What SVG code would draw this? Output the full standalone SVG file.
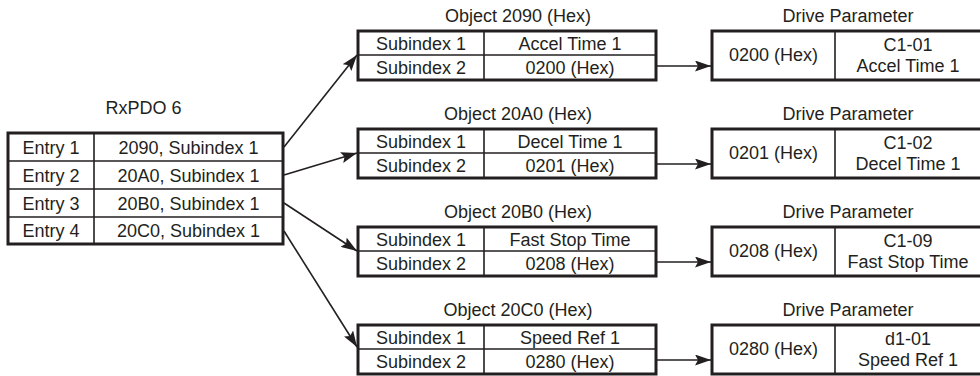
<svg xmlns="http://www.w3.org/2000/svg" width="980" height="376" viewBox="0 0 980 376">
<style>
text{font-family:"Liberation Sans",Arial,sans-serif;font-size:18px;fill:#231f20;text-anchor:middle}
.box{fill:#fff;stroke:#231f20;stroke-width:3}
.div{stroke:#231f20;stroke-width:1.6;fill:none}
.conn{stroke:#231f20;stroke-width:1.6;fill:none;marker-end:url(#ah)}
</style>
<defs>
<marker id="ah" markerUnits="userSpaceOnUse" markerWidth="17" markerHeight="11" refX="16" refY="5.5" orient="auto">
<path d="M0,0 L16,5.5 L0,11 L3,5.5 z" fill="#231f20"/>
</marker>
</defs>
<rect width="980" height="376" fill="#fff"/>

<g id="rxpdo">
<text x="143.5" y="114">RxPDO 6</text>
<rect class="box" x="8" y="133" width="275" height="111"/>
<line class="div" x1="94" y1="133" x2="94" y2="244"/>
<line class="div" x1="8" y1="161" x2="283" y2="161"/>
<line class="div" x1="8" y1="189" x2="283" y2="189"/>
<line class="div" x1="8" y1="217" x2="283" y2="217"/>
<text x="51" y="154">Entry 1</text><text x="188.5" y="154">2090, Subindex 1</text>
<text x="51" y="182">Entry 2</text><text x="188.5" y="182">20A0, Subindex 1</text>
<text x="51" y="210">Entry 3</text><text x="188.5" y="210">20B0, Subindex 1</text>
<text x="51" y="237">Entry 4</text><text x="188.5" y="237">20C0, Subindex 1</text>
</g>

<g id="obj2090">
<text x="518" y="22">Object 2090 (Hex)</text>
<rect class="box" x="358" y="31" width="298" height="49"/>
<line class="div" x1="484" y1="31" x2="484" y2="80"/>
<line class="div" x1="358" y1="55" x2="656" y2="55"/>
<text x="421" y="50">Subindex 1</text><text x="570" y="50">Accel Time 1</text>
<text x="421" y="74">Subindex 2</text><text x="570" y="74">0200 (Hex)</text>
</g>
<g id="obj20A0">
<text x="518" y="120">Object 20A0 (Hex)</text>
<rect class="box" x="358" y="129" width="298" height="49"/>
<line class="div" x1="484" y1="129" x2="484" y2="178"/>
<line class="div" x1="358" y1="153" x2="656" y2="153"/>
<text x="421" y="148">Subindex 1</text><text x="570" y="148">Decel Time 1</text>
<text x="421" y="172">Subindex 2</text><text x="570" y="172">0201 (Hex)</text>
</g>
<g id="obj20B0">
<text x="518" y="218">Object 20B0 (Hex)</text>
<rect class="box" x="358" y="227" width="298" height="49"/>
<line class="div" x1="484" y1="227" x2="484" y2="276"/>
<line class="div" x1="358" y1="251" x2="656" y2="251"/>
<text x="421" y="246">Subindex 1</text><text x="570" y="246">Fast Stop Time</text>
<text x="421" y="270">Subindex 2</text><text x="570" y="270">0208 (Hex)</text>
</g>
<g id="obj20C0">
<text x="518" y="316">Object 20C0 (Hex)</text>
<rect class="box" x="358" y="325" width="298" height="49"/>
<line class="div" x1="484" y1="325" x2="484" y2="374"/>
<line class="div" x1="358" y1="349" x2="656" y2="349"/>
<text x="421" y="344">Subindex 1</text><text x="570" y="344">Speed Ref 1</text>
<text x="421" y="368">Subindex 2</text><text x="570" y="368">0280 (Hex)</text>
</g>

<g id="drive1">
<text x="848" y="22">Drive Parameter</text>
<rect class="box" x="712" y="31" width="272" height="49"/>
<line class="div" x1="835" y1="31" x2="835" y2="80"/>
<text x="773.5" y="61">0200 (Hex)</text>
<text x="908" y="51">C1-01</text><text x="908" y="72">Accel Time 1</text>
</g>
<g id="drive2">
<text x="848" y="120">Drive Parameter</text>
<rect class="box" x="712" y="129" width="272" height="49"/>
<line class="div" x1="835" y1="129" x2="835" y2="178"/>
<text x="773.5" y="159">0201 (Hex)</text>
<text x="908" y="149">C1-02</text><text x="908" y="170">Decel Time 1</text>
</g>
<g id="drive3">
<text x="848" y="218">Drive Parameter</text>
<rect class="box" x="712" y="227" width="272" height="49"/>
<line class="div" x1="835" y1="227" x2="835" y2="276"/>
<text x="773.5" y="257">0208 (Hex)</text>
<text x="908" y="247">C1-09</text><text x="908" y="268">Fast Stop Time</text>
</g>
<g id="drive4">
<text x="848" y="316">Drive Parameter</text>
<rect class="box" x="712" y="325" width="272" height="49"/>
<line class="div" x1="835" y1="325" x2="835" y2="374"/>
<text x="773.5" y="355">0280 (Hex)</text>
<text x="908" y="345">d1-01</text><text x="908" y="366">Speed Ref 1</text>
</g>

<g id="connectors">
<line class="conn" x1="284" y1="147" x2="357" y2="55"/>
<line class="conn" x1="284" y1="175" x2="357" y2="153"/>
<line class="conn" x1="284" y1="203" x2="357" y2="251"/>
<line class="conn" x1="284" y1="231" x2="357" y2="347"/>
<line class="conn" x1="657" y1="66" x2="711" y2="66"/>
<line class="conn" x1="657" y1="164" x2="711" y2="164"/>
<line class="conn" x1="657" y1="262" x2="711" y2="262"/>
<line class="conn" x1="657" y1="360" x2="711" y2="360"/>
</g>
</svg>
